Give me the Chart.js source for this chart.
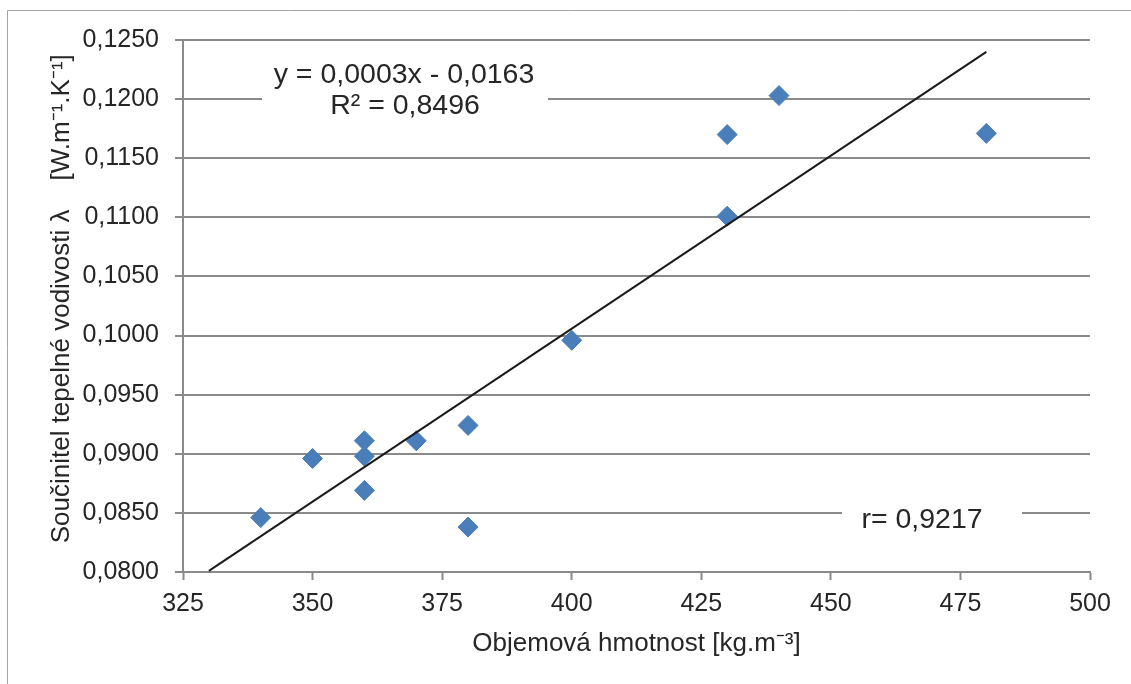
<!DOCTYPE html>
<html>
<head>
<meta charset="utf-8">
<script src="https://cdn.jsdelivr.net/npm/chart.js@4.4.1/dist/chart.umd.min.js"></script>
<style>
	html, body {margin: 0; padding: 0; background: #fff;}
	#wrap {width: 1131px; height: 684px; position: relative;}
</style>
</head>
<body>
<div id="wrap"><canvas id="chart"></canvas></div>
<script>
// measured points (Objemová hmotnost vs. lambda)
const densities = [340, 350, 360, 360, 360, 370, 380, 380, 400, 430, 430, 440, 480];
const lambdas = [0.0846, 0.0896, 0.0911, 0.0898, 0.0869, 0.0911, 0.0924, 0.0838, 0.0996, 0.1170, 0.1101, 0.1203, 0.1171];
// linear trend line end points
const trendX = [330, 480];
const trendY = [0.0801, 0.1240];
const equationLines = ['y = 0,0003x - 0,0163', 'R² = 0,8496'];
const corrLabel = 'r= 0,9217';

const gridGray = '#8a8a8a';
const textColor = '#262626';
const fontFamily = '"Liberation Sans", Arial, sans-serif';

// white boxed labels + outer frame
const annotations = {
	id: 'annotations',
	beforeDatasetsDraw(chart) {
		let ctx = chart.ctx;
		ctx.save();
		ctx.fillStyle = '#fff';
		ctx.fillRect(262, 52, 286, 72);
		ctx.fillRect(842, 500, 180, 40);
		ctx.fillStyle = textColor;
		ctx.font = '28.5px ' + fontFamily;
		ctx.textAlign = 'center';
		ctx.textBaseline = 'alphabetic';
		ctx.fillText(equationLines[0], 404, 83);
		ctx.fillText(equationLines[1], 405, 114);
		ctx.fillText(corrLabel, 922, 528);
		ctx.restore();
	},
	afterDraw(chart) {
		let ctx = chart.ctx;
		ctx.save();
		ctx.strokeStyle = '#a6a6a6';
		ctx.lineWidth = 1;
		ctx.beginPath();
		ctx.moveTo(7.5, 684);
		ctx.lineTo(7.5, 10.5);
		ctx.lineTo(1131, 10.5);
		ctx.stroke();
		ctx.restore();
	}
};

const scatterPoints = densities.map((d, i) => ({x: d, y: lambdas[i]}));
const trendPoints = trendX.map((d, i) => ({x: d, y: trendY[i]}));

new Chart(document.getElementById('chart'), {
	type: 'scatter',
	data: {
		datasets: [
			{
				type: 'line',
				data: trendPoints,
				borderColor: '#1a1a1a',
				borderWidth: 2,
				pointRadius: 0,
				fill: false,
				order: 0
			},
			{
				data: scatterPoints,
				pointStyle: 'rectRot',
				pointRadius: 10,
				pointHoverRadius: 10,
				backgroundColor: '#4a7ebb',
				borderColor: '#4a7ebb',
				borderWidth: 1,
				order: 1
			}
		]
	},
	options: {
		responsive: true,
		maintainAspectRatio: false,
		animation: false,
		events: [],
		layout: {padding: {top: 40, right: 41, left: 0, bottom: 0}},
		plugins: {
			legend: {display: false},
			tooltip: {enabled: false}
		},
		scales: {
			x: {
				type: 'linear',
				min: 325,
				max: 500,
				afterFit: function (scale) { scale.height = 112; },
				border: {display: true, color: gridGray, width: 2},
				grid: {drawOnChartArea: false, drawTicks: true, tickLength: 8, tickColor: gridGray, tickWidth: 2},
				ticks: {
					stepSize: 25,
					autoSkip: false,
					maxRotation: 0,
					padding: 9,
					color: textColor,
					font: {family: fontFamily, size: 25}
				},
				title: {
					display: true,
					text: 'Objemová hmotnost [kg.m⁻³]',
					color: textColor,
					font: {family: fontFamily, size: 26},
					padding: {top: 0, bottom: 25}
				}
			},
			y: {
				type: 'linear',
				min: 0.08,
				max: 0.125,
				afterFit: function (scale) { scale.width = 183; },
				border: {display: true, color: gridGray, width: 2},
				grid: {color: gridGray, lineWidth: 2, drawTicks: true, tickLength: 8, tickColor: gridGray, tickWidth: 2},
				ticks: {
					stepSize: 0.005,
					autoSkip: false,
					padding: 16,
					color: textColor,
					font: {family: fontFamily, size: 25},
					callback: function (value) {
						return value.toFixed(4).replace('.', ',');
					}
				},
				title: {
					display: true,
					text: '  Součinitel tepelné vodivosti λ    [W.m⁻¹.K⁻¹]',
					color: textColor,
					font: {family: fontFamily, size: 26},
					padding: {top: 46, bottom: 0}
				}
			}
		}
	},
	plugins: [annotations]
});
</script>
</body>
</html>
